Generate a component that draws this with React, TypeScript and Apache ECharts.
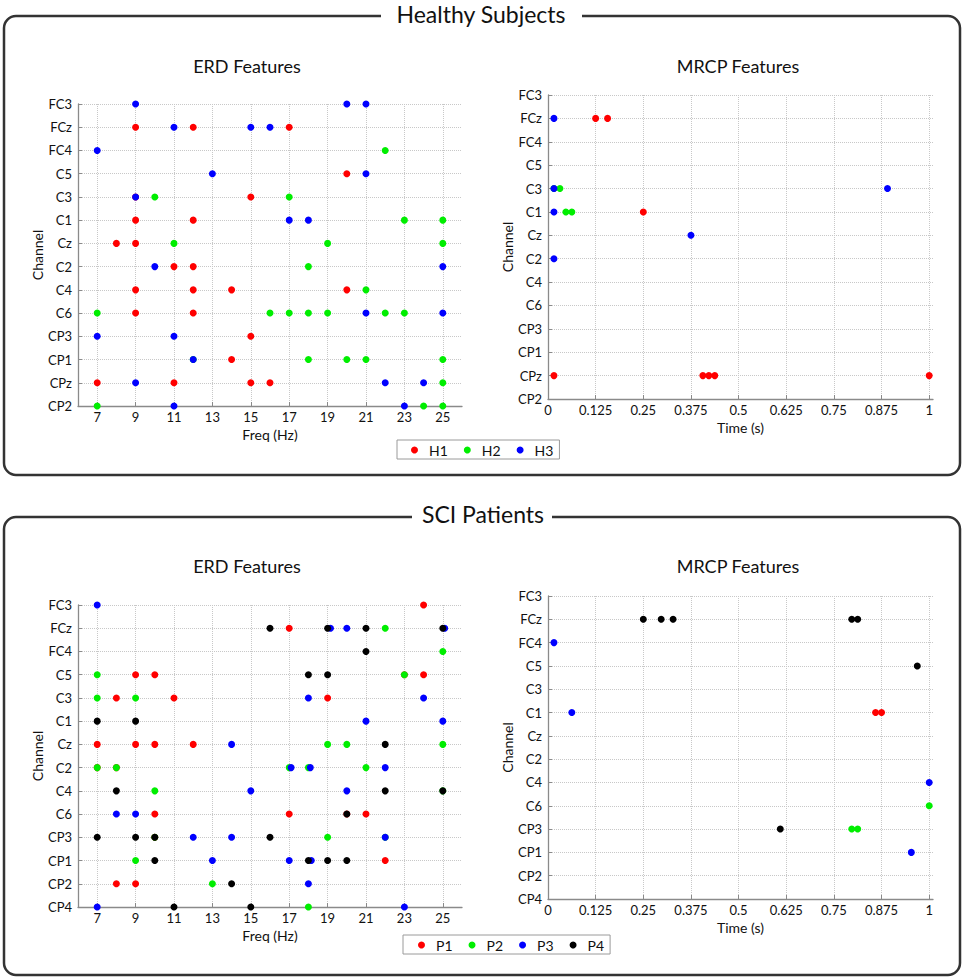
import React, { useEffect, useRef } from "react";
import * as echarts from "echarts";

type Pt = [number, string];

const FONT = 'Lato, "Open Sans", sans-serif';

const channelsTop = ["FC3", "FCz", "FC4", "C5", "C3", "C1", "Cz", "C2", "C4", "C6", "CP3", "CP1", "CPz", "CP2"];
const channelsBottom = ["FC3", "FCz", "FC4", "C5", "C3", "C1", "Cz", "C2", "C4", "C6", "CP3", "CP1", "CP2", "CP4"];

const freqTicks = [7, 9, 11, 13, 15, 17, 19, 21, 23, 25];
const timeTicks = [0, 0.125, 0.25, 0.375, 0.5, 0.625, 0.75, 0.875, 1];

const healthyNames = ["H1", "H2", "H3"];
const patientNames = ["P1", "P2", "P3", "P4"];
const healthyColors = ["#ff0000", "#00ee00", "#0000ff"];
const patientColors = ["#ff0000", "#00ee00", "#0000ff", "#000000"];

// Healthy subjects — ERD features (Hz, channel)
const erdH1: Pt[] = [
  [9, "FCz"], [12, "FCz"], [17, "FCz"], [20, "C5"], [9, "C3"], [15, "C3"], [9, "C1"], [12, "C1"],
  [8, "Cz"], [9, "Cz"], [11, "C2"], [12, "C2"], [9, "C4"], [12, "C4"], [14, "C4"], [20, "C4"],
  [9, "C6"], [12, "C6"], [15, "CP3"], [14, "CP1"], [7, "CPz"], [11, "CPz"], [15, "CPz"], [16, "CPz"],
];
const erdH2: Pt[] = [
  [22, "FC4"], [10, "C3"], [17, "C3"], [23, "C1"], [25, "C1"], [11, "Cz"], [19, "Cz"], [25, "Cz"],
  [18, "C2"], [21, "C4"], [7, "C6"], [16, "C6"], [17, "C6"], [18, "C6"], [19, "C6"], [22, "C6"], [23, "C6"],
  [12, "CP1"], [18, "CP1"], [20, "CP1"], [21, "CP1"], [25, "CP1"], [25, "CPz"], [7, "CP2"], [24, "CP2"], [25, "CP2"],
];
const erdH3: Pt[] = [
  [9, "FC3"], [20, "FC3"], [21, "FC3"], [11, "FCz"], [15, "FCz"], [16, "FCz"], [7, "FC4"], [13, "C5"], [21, "C5"],
  [9, "C3"], [17, "C1"], [18, "C1"], [10, "C2"], [25, "C2"], [21, "C6"], [25, "C6"], [7, "CP3"], [11, "CP3"],
  [12, "CP1"], [9, "CPz"], [22, "CPz"], [24, "CPz"], [11, "CP2"], [23, "CP2"],
];

// Healthy subjects — MRCP features (s, channel)
const mrcpH1: Pt[] = [
  [0.125, "FCz"], [0.15625, "FCz"], [0.25, "C1"], [0.015625, "CPz"], [0.40625, "CPz"], [0.421875, "CPz"], [0.4375, "CPz"], [1, "CPz"],
];
const mrcpH2: Pt[] = [
  [0.015625, "C3"], [0.03125, "C3"], [0.046875, "C1"], [0.0625, "C1"],
];
const mrcpH3: Pt[] = [
  [0.015625, "FCz"], [0.015625, "C3"], [0.890625, "C3"], [0.015625, "C1"], [0.375, "Cz"], [0.015625, "C2"],
];

// SCI patients — ERD features (Hz, channel)
const erdP1: Pt[] = [
  [24, "FC3"], [17, "FCz"], [9, "C5"], [10, "C5"], [23, "C5"], [24, "C5"], [8, "C3"], [11, "C3"], [19, "C3"],
  [7, "Cz"], [9, "Cz"], [10, "Cz"], [12, "Cz"], [7, "C2"], [8, "C2"], [10, "C6"], [17, "C6"], [20, "C6"], [21, "C6"],
  [10, "CP3"], [22, "CP1"], [8, "CP2"], [9, "CP2"],
];
const erdP2: Pt[] = [
  [22, "FCz"], [25, "FC4"], [7, "C5"], [23, "C5"], [7, "C3"], [9, "C3"], [19, "Cz"], [20, "Cz"], [25, "Cz"],
  [7, "C2"], [8, "C2"], [17, "C2"], [18, "C2"], [21, "C2"], [10, "C4"], [25, "C4"], [10, "CP3"], [19, "CP3"], [22, "CP3"],
  [9, "CP1"], [13, "CP2"], [18, "CP4"],
];
const erdP3: Pt[] = [
  [7, "FC3"], [19.15, "FCz"], [20, "FCz"], [25.1, "FCz"], [18, "C3"], [24, "C3"], [21, "C1"], [25, "C1"], [14, "Cz"],
  [17.1, "C2"], [18.1, "C2"], [22, "C2"], [15, "C4"], [20, "C4"], [8, "C6"], [9, "C6"], [12, "CP3"], [14, "CP3"], [22, "CP3"],
  [13, "CP1"], [17, "CP1"], [18.15, "CP1"], [18, "CP2"], [7, "CP4"], [23, "CP4"],
];
const erdP4: Pt[] = [
  [16, "FCz"], [19, "FCz"], [21, "FCz"], [25, "FCz"], [21, "FC4"], [18, "C5"], [19, "C5"], [7, "C1"], [9, "C1"], [22, "Cz"],
  [8, "C4"], [22, "C4"], [25, "C4"], [20, "C6"], [7, "CP3"], [9, "CP3"], [10, "CP3"], [16, "CP3"],
  [10, "CP1"], [18, "CP1"], [19, "CP1"], [20, "CP1"], [14, "CP2"], [11, "CP4"], [15, "CP4"],
];

// SCI patients — MRCP features (s, channel)
const mrcpP1: Pt[] = [[0.859375, "C1"], [0.875, "C1"]];
const mrcpP2: Pt[] = [[1, "C6"], [0.796875, "CP3"], [0.8125, "CP3"]];
const mrcpP3: Pt[] = [[0.015625, "FC4"], [0.0625, "C1"], [1, "C4"], [0.953125, "CP1"]];
const mrcpP4: Pt[] = [
  [0.25, "FCz"], [0.296875, "FCz"], [0.328125, "FCz"], [0.796875, "FCz"], [0.8125, "FCz"], [0.96875, "C5"], [0.609375, "CP3"],
];

const AXIS_GRAY = "#8a8a8a";

function xAxisCfg(gridIndex: number, kind: "erd" | "mrcp") {
  const isErd = kind === "erd";
  const ticks = isErd ? freqTicks : timeTicks;
  return {
    type: "value",
    gridIndex,
    min: isErd ? 6 : 0,
    max: isErd ? 26 : 1.01,
    name: isErd ? "Freq (Hz)" : "Time (s)",
    nameLocation: "middle",
    nameGap: 21,
    nameTextStyle: { fontFamily: FONT, fontSize: 14, color: "#111" },
    axisLine: { show: true, onZero: false, lineStyle: { color: AXIS_GRAY, width: 1.3 } },
    axisTick: { show: true, inside: true, length: 4, customValues: ticks, lineStyle: { color: AXIS_GRAY } },
    axisLabel: {
      customValues: ticks,
      fontFamily: FONT,
      fontSize: 13,
      color: "#111",
      margin: 4,
      showMinLabel: true,
      showMaxLabel: true,
    },
    splitLine: { show: true, lineStyle: { type: "dotted", color: "#c8c8c8", width: 1 } },
  };
}

function yAxisCfg(gridIndex: number, cats: string[]) {
  return {
    type: "category",
    gridIndex,
    data: cats,
    inverse: true,
    boundaryGap: false,
    name: "Channel",
    nameLocation: "middle",
    nameGap: 34,
    nameTextStyle: { fontFamily: FONT, fontSize: 14, color: "#111" },
    axisLine: { show: true, onZero: false, lineStyle: { color: AXIS_GRAY, width: 1.3 } },
    axisTick: { show: true, inside: true, length: 4, interval: 0, alignWithLabel: true, lineStyle: { color: AXIS_GRAY } },
    axisLabel: { interval: 0, fontFamily: FONT, fontSize: 13, color: "#111", margin: 6 },
    splitLine: { show: true, interval: 0, lineStyle: { type: "dotted", color: "#c8c8c8", width: 1 } },
  };
}

function scatter(name: string, color: string, data: Pt[], axisIndex: number) {
  return {
    type: "scatter",
    name,
    xAxisIndex: axisIndex,
    yAxisIndex: axisIndex,
    data,
    symbol: "circle",
    symbolSize: 7,
    clip: false,
    itemStyle: { color, opacity: 1 },
    emphasis: { disabled: true },
  };
}

function legendCfg(names: string[], left: number, top: number, padding: number[]) {
  return {
    data: names,
    left,
    top,
    orient: "horizontal",
    icon: "circle",
    itemWidth: 7,
    itemHeight: 7,
    itemGap: 16,
    padding,
    borderColor: "#9a9a9a",
    borderWidth: 1,
    backgroundColor: "#fff",
    selectedMode: false,
    textStyle: { fontFamily: FONT, fontSize: 14, color: "#111", padding: [0, 0, 0, 6] },
  };
}

function textEl(text: string, x: number, y: number, size: number, z = 10) {
  return {
    type: "text",
    x,
    y,
    z,
    style: {
      text,
      fontFamily: FONT,
      fontSize: size,
      fill: "#111",
      textAlign: "center",
      textVerticalAlign: "middle",
      align: "center",
      verticalAlign: "middle",
    },
  };
}

export default function App() {
  const ref = useRef<HTMLDivElement>(null);

  useEffect(() => {
    if (!ref.current) return;
    const chart = echarts.init(ref.current, undefined, { renderer: "svg" });

    const series = [
      scatter(healthyNames[0], healthyColors[0], erdH1, 0),
      scatter(healthyNames[1], healthyColors[1], erdH2, 0),
      scatter(healthyNames[2], healthyColors[2], erdH3, 0),
      scatter(healthyNames[0], healthyColors[0], mrcpH1, 1),
      scatter(healthyNames[1], healthyColors[1], mrcpH2, 1),
      scatter(healthyNames[2], healthyColors[2], mrcpH3, 1),
      scatter(patientNames[0], patientColors[0], erdP1, 2),
      scatter(patientNames[1], patientColors[1], erdP2, 2),
      scatter(patientNames[2], patientColors[2], erdP3, 2),
      scatter(patientNames[3], patientColors[3], erdP4, 2),
      scatter(patientNames[0], patientColors[0], mrcpP1, 3),
      scatter(patientNames[1], patientColors[1], mrcpP2, 3),
      scatter(patientNames[2], patientColors[2], mrcpP3, 3),
      scatter(patientNames[3], patientColors[3], mrcpP4, 3),
    ];

    chart.setOption({
      animation: false,
      backgroundColor: "#fff",
      textStyle: { fontFamily: FONT },
      grid: [
        { left: 78, top: 104, width: 384, height: 302 },
        { left: 548, top: 95, width: 385, height: 304 },
        { left: 78, top: 605, width: 384, height: 302 },
        { left: 548, top: 596, width: 385, height: 303 },
      ],
      xAxis: [xAxisCfg(0, "erd"), xAxisCfg(1, "mrcp"), xAxisCfg(2, "erd"), xAxisCfg(3, "mrcp")],
      yAxis: [yAxisCfg(0, channelsTop), yAxisCfg(1, channelsTop), yAxisCfg(2, channelsBottom), yAxisCfg(3, channelsBottom)],
      legend: [
        legendCfg(healthyNames, 397, 440, [3, 6, 2, 14]),
        legendCfg(patientNames, 403, 935, [3, 6, 2, 15]),
      ],
      graphic: [
        {
          type: "rect",
          z: 1,
          shape: { x: 4, y: 16, width: 956, height: 459, r: 12 },
          style: { fill: "none", stroke: "#333", lineWidth: 2.5 },
        },
        {
          type: "rect",
          z: 1,
          shape: { x: 4, y: 517, width: 956, height: 458, r: 12 },
          style: { fill: "none", stroke: "#333", lineWidth: 2.5 },
        },
        { type: "rect", z: 5, shape: { x: 381, y: 2, width: 201, height: 26 }, style: { fill: "#fff" } },
        { type: "rect", z: 5, shape: { x: 412, y: 503, width: 140, height: 26 }, style: { fill: "#fff" } },
        textEl("Healthy Subjects", 481, 14, 23),
        textEl("SCI Patients", 483, 514, 23),
        textEl("ERD Features", 247, 66, 18),
        textEl("MRCP Features", 738, 66, 18),
        textEl("ERD Features", 247, 566, 18),
        textEl("MRCP Features", 738, 566, 18),
      ],
      series,
    });

    return () => chart.dispose();
  }, []);

  return (
    <div
      ref={ref}
      style={{ position: "absolute", left: 0, top: 0, width: 964, height: 980, background: "#fff" }}
    />
  );
}
